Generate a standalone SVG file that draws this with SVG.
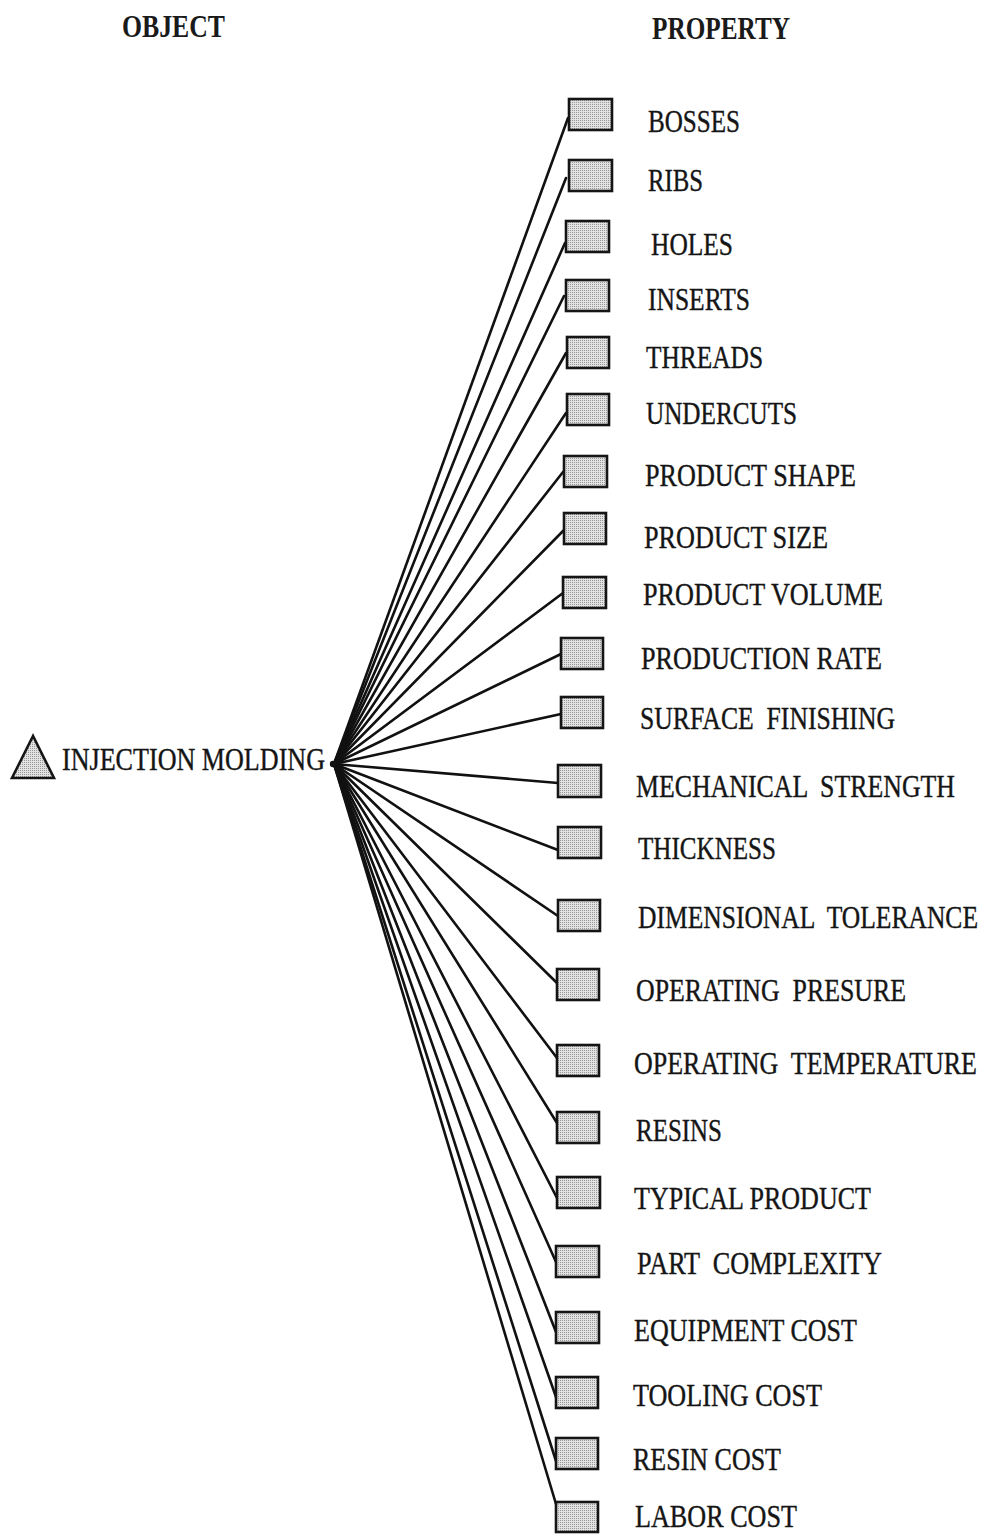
<svg xmlns="http://www.w3.org/2000/svg" width="986" height="1534" viewBox="0 0 986 1534">
  <defs>
    <!-- fine stipple used for the node fills -->
    <pattern id="stipple" width="2" height="2" patternUnits="userSpaceOnUse">
      <rect width="2" height="2" fill="#e2e2e2"/>
      <rect width="1" height="1" fill="#979797"/>
    </pattern>
  </defs>
  <style>
    .hdr { font-family: "Liberation Serif", "Times New Roman", serif; font-weight: bold; font-size: 31px; fill: #1a1a1a; }
    /* labels use a tall, narrow serif: 24px glyphs stretched vertically */
    .lbl { font-family: "Liberation Serif", "Times New Roman", serif; font-size: 24px; fill: #151515; stroke: #151515; stroke-width: 0.3; white-space: pre; }
    .box { fill: url(#stipple); stroke: #151515; stroke-width: 2.6; }
    .tri { fill: url(#stipple); stroke: #151515; stroke-width: 2.6; stroke-linejoin: miter; }
    .link { stroke: #111; stroke-width: 2.6; fill: none; stroke-linecap: round; }
  </style>
  <rect width="986" height="1534" fill="#ffffff"/>

  <!-- column headers -->
  <text class="hdr" x="122" y="37" textLength="103" lengthAdjust="spacingAndGlyphs">OBJECT</text>
  <text class="hdr" x="652" y="39" textLength="138" lengthAdjust="spacingAndGlyphs">PROPERTY</text>

  <!-- connectors fanning out from the object node -->
  <g id="connectors">
    <line class="link" x1="334" y1="764" x2="568" y2="118"/>
    <line class="link" x1="334" y1="764" x2="566" y2="178"/>
    <line class="link" x1="334" y1="764" x2="565" y2="243"/>
    <line class="link" x1="334" y1="764" x2="564" y2="296"/>
    <line class="link" x1="334" y1="764" x2="566" y2="353"/>
    <line class="link" x1="334" y1="764" x2="566" y2="413"/>
    <line class="link" x1="334" y1="764" x2="563" y2="472"/>
    <line class="link" x1="334" y1="764" x2="564" y2="530"/>
    <line class="link" x1="334" y1="764" x2="563" y2="593"/>
    <line class="link" x1="334" y1="764" x2="561" y2="654"/>
    <line class="link" x1="334" y1="764" x2="561" y2="714"/>
    <line class="link" x1="334" y1="764" x2="558" y2="783"/>
    <line class="link" x1="334" y1="764" x2="558" y2="850"/>
    <line class="link" x1="334" y1="764" x2="558" y2="916"/>
    <line class="link" x1="334" y1="764" x2="557" y2="983"/>
    <line class="link" x1="334" y1="764" x2="557" y2="1058"/>
    <line class="link" x1="334" y1="764" x2="557" y2="1123"/>
    <line class="link" x1="334" y1="764" x2="557" y2="1198"/>
    <line class="link" x1="334" y1="764" x2="556" y2="1262"/>
    <line class="link" x1="334" y1="764" x2="556" y2="1332"/>
    <line class="link" x1="334" y1="764" x2="556" y2="1397"/>
    <line class="link" x1="334" y1="764" x2="556" y2="1461"/>
    <line class="link" x1="334" y1="764" x2="556" y2="1504"/>
    <circle cx="333" cy="764" r="3.2" fill="#111"/>
  </g>

  <!-- object node -->
  <g id="injection-molding">
    <polygon class="tri" points="33,736 12,778 54,778"/>
    <text class="lbl" transform="translate(62,770) scale(1,1.3)" textLength="263" lengthAdjust="spacingAndGlyphs">INJECTION MOLDING</text>
  </g>

  <!-- property nodes -->
  <g id="bosses"><rect class="box" x="569" y="99" width="43" height="31"/><text class="lbl" transform="translate(648,132) scale(1,1.3)" textLength="92" lengthAdjust="spacingAndGlyphs">BOSSES</text></g>
  <g id="ribs"><rect class="box" x="569" y="160" width="43" height="31"/><text class="lbl" transform="translate(648,191) scale(1,1.3)" textLength="55" lengthAdjust="spacingAndGlyphs">RIBS</text></g>
  <g id="holes"><rect class="box" x="566" y="221" width="43" height="31"/><text class="lbl" transform="translate(651,255) scale(1,1.3)" textLength="82" lengthAdjust="spacingAndGlyphs">HOLES</text></g>
  <g id="inserts"><rect class="box" x="566" y="280" width="43" height="31"/><text class="lbl" transform="translate(648,310) scale(1,1.3)" textLength="102" lengthAdjust="spacingAndGlyphs">INSERTS</text></g>
  <g id="threads"><rect class="box" x="567" y="337" width="42" height="31"/><text class="lbl" transform="translate(646,368) scale(1,1.3)" textLength="117" lengthAdjust="spacingAndGlyphs">THREADS</text></g>
  <g id="undercuts"><rect class="box" x="567" y="394" width="42" height="31"/><text class="lbl" transform="translate(646,424) scale(1,1.3)" textLength="151" lengthAdjust="spacingAndGlyphs">UNDERCUTS</text></g>
  <g id="product-shape"><rect class="box" x="564" y="456" width="43" height="31"/><text class="lbl" transform="translate(645,486) scale(1,1.3)" textLength="211" lengthAdjust="spacingAndGlyphs">PRODUCT SHAPE</text></g>
  <g id="product-size"><rect class="box" x="564" y="513" width="42" height="31"/><text class="lbl" transform="translate(644,548) scale(1,1.3)" textLength="184" lengthAdjust="spacingAndGlyphs">PRODUCT SIZE</text></g>
  <g id="product-volume"><rect class="box" x="563" y="577" width="43" height="31"/><text class="lbl" transform="translate(643,605) scale(1,1.3)" textLength="240" lengthAdjust="spacingAndGlyphs">PRODUCT VOLUME</text></g>
  <g id="production-rate"><rect class="box" x="561" y="638" width="42" height="31"/><text class="lbl" transform="translate(641,669) scale(1,1.3)" textLength="241" lengthAdjust="spacingAndGlyphs">PRODUCTION RATE</text></g>
  <g id="surface-finishing"><rect class="box" x="561" y="697" width="42" height="31"/><text class="lbl" transform="translate(640,729) scale(1,1.3)" textLength="255" lengthAdjust="spacingAndGlyphs">SURFACE  FINISHING</text></g>
  <g id="mechanical-strength"><rect class="box" x="558" y="765" width="43" height="32"/><text class="lbl" transform="translate(636,797) scale(1,1.3)" textLength="319" lengthAdjust="spacingAndGlyphs">MECHANICAL  STRENGTH</text></g>
  <g id="thickness"><rect class="box" x="558" y="827" width="43" height="31"/><text class="lbl" transform="translate(638,859) scale(1,1.3)" textLength="138" lengthAdjust="spacingAndGlyphs">THICKNESS</text></g>
  <g id="dimensional-tolerance"><rect class="box" x="558" y="900" width="42" height="31"/><text class="lbl" transform="translate(638,928) scale(1,1.3)" textLength="340" lengthAdjust="spacingAndGlyphs">DIMENSIONAL  TOLERANCE</text></g>
  <g id="operating-presure"><rect class="box" x="557" y="969" width="42" height="31"/><text class="lbl" transform="translate(636,1001) scale(1,1.3)" textLength="270" lengthAdjust="spacingAndGlyphs">OPERATING  PRESURE</text></g>
  <g id="operating-temperature"><rect class="box" x="557" y="1045" width="42" height="31"/><text class="lbl" transform="translate(634,1074) scale(1,1.3)" textLength="343" lengthAdjust="spacingAndGlyphs">OPERATING  TEMPERATURE</text></g>
  <g id="resins"><rect class="box" x="557" y="1112" width="42" height="31"/><text class="lbl" transform="translate(636,1141) scale(1,1.3)" textLength="86" lengthAdjust="spacingAndGlyphs">RESINS</text></g>
  <g id="typical-product"><rect class="box" x="557" y="1177" width="43" height="31"/><text class="lbl" transform="translate(634,1209) scale(1,1.3)" textLength="237" lengthAdjust="spacingAndGlyphs">TYPICAL PRODUCT</text></g>
  <g id="part-complexity"><rect class="box" x="556" y="1246" width="43" height="31"/><text class="lbl" transform="translate(637,1274) scale(1,1.3)" textLength="245" lengthAdjust="spacingAndGlyphs">PART  COMPLEXITY</text></g>
  <g id="equipment-cost"><rect class="box" x="556" y="1312" width="43" height="31"/><text class="lbl" transform="translate(634,1341) scale(1,1.3)" textLength="223" lengthAdjust="spacingAndGlyphs">EQUIPMENT COST</text></g>
  <g id="tooling-cost"><rect class="box" x="556" y="1377" width="42" height="31"/><text class="lbl" transform="translate(633,1406) scale(1,1.3)" textLength="189" lengthAdjust="spacingAndGlyphs">TOOLING COST</text></g>
  <g id="resin-cost"><rect class="box" x="556" y="1438" width="42" height="31"/><text class="lbl" transform="translate(633,1470) scale(1,1.3)" textLength="148" lengthAdjust="spacingAndGlyphs">RESIN COST</text></g>
  <g id="labor-cost"><rect class="box" x="556" y="1502" width="42" height="30"/><text class="lbl" transform="translate(635,1527) scale(1,1.3)" textLength="162" lengthAdjust="spacingAndGlyphs">LABOR COST</text></g>
</svg>
